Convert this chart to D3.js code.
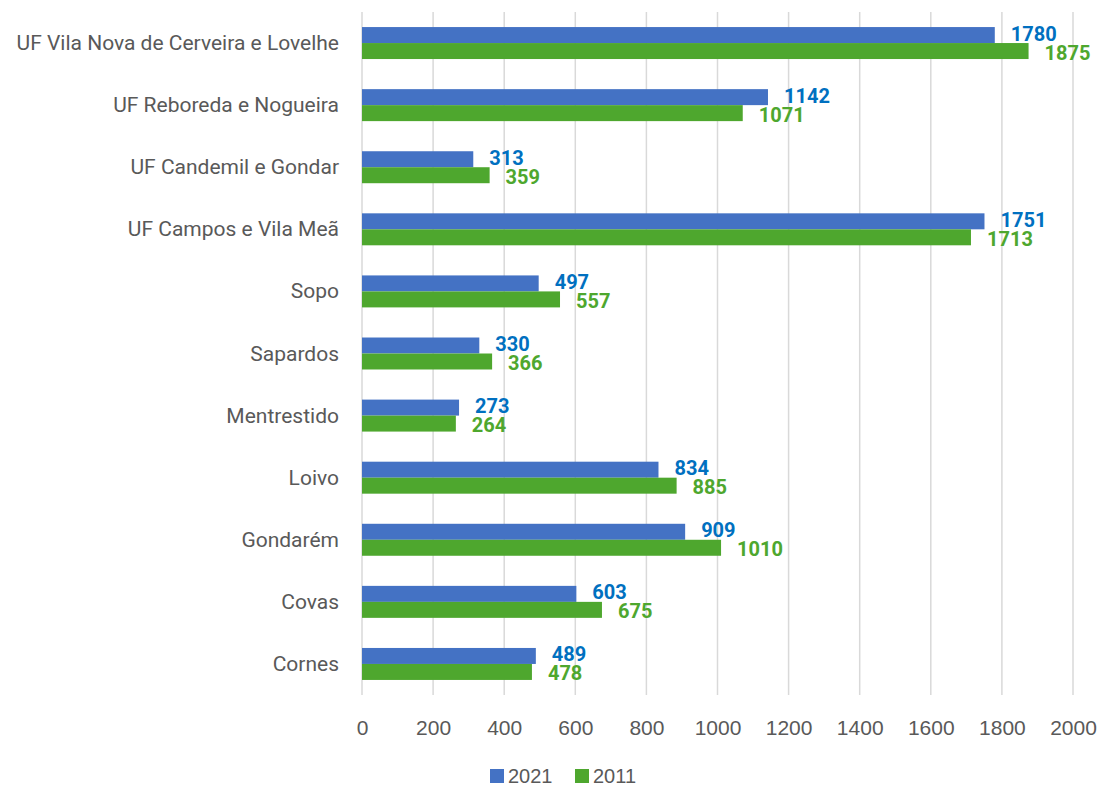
<!DOCTYPE html>
<html>
<head>
<meta charset="utf-8">
<script src="https://cdn.jsdelivr.net/npm/d3@7"></script>
<style>
  html, body { margin: 0; padding: 0; background: #ffffff; }
  svg { display: block; }
</style>
</head>
<body>
<svg id="chart" width="1099" height="787"></svg>
<script>
// Parishes, listed top to bottom
const categories = [
  "UF Vila Nova de Cerveira e Lovelhe",
  "UF Reboreda e Nogueira",
  "UF Candemil e Gondar",
  "UF Campos e Vila Meã",
  "Sopo",
  "Sapardos",
  "Mentrestido",
  "Loivo",
  "Gondarém",
  "Covas",
  "Cornes"
];
const values2021 = [1780, 1142, 313, 1751, 497, 330, 273, 834, 909, 603, 489];
const values2011 = [1875, 1071, 359, 1713, 557, 366, 264, 885, 1010, 675, 478];
const seriesNames = ["2021", "2011"];
const xTicks = [0, 200, 400, 600, 800, 1000, 1200, 1400, 1600, 1800, 2000];

const barColors = { "2021": "#4472C4", "2011": "#4EA72E" };
const labelColors = { "2021": "#0070C0", "2011": "#4EA72E" };

const svg = d3.select("#chart");
const plot = { left: 362, right: 1073, top: 12, bottom: 695 };

const x = d3.scaleLinear().domain([0, 2000]).range([plot.left, plot.right]);
const y = d3.scaleBand().domain(categories).range([plot.top, plot.bottom]).paddingInner(0.485).paddingOuter(0.2425);
const ySub = d3.scaleBand().domain(seriesNames).range([0, y.bandwidth()]);

// vertical gridlines
svg.append("g")
  .selectAll("line")
  .data(xTicks)
  .join("line")
  .attr("x1", d => x(d)).attr("x2", d => x(d))
  .attr("y1", plot.top).attr("y2", plot.bottom)
  .attr("stroke", "#d9d9d9")
  .attr("stroke-width", 1.5);

// x axis tick labels
const xAxis = d3.axisBottom(x).tickValues(xTicks).tickFormat(d3.format("d")).tickSize(0).tickPadding(0);
const gx = svg.append("g").attr("transform", `translate(0,${plot.bottom})`).call(xAxis);
gx.select(".domain").remove();
gx.selectAll("text")
  .attr("dy", null)
  .attr("y", 32)
  .attr("dominant-baseline", "central")
  .attr("fill", "#595959")
  .attr("font-family", "'Liberation Sans', Arial, sans-serif")
  .attr("font-size", 21);

// category labels
const yAxis = d3.axisLeft(y).tickSize(0).tickPadding(0);
const gy = svg.append("g").attr("transform", `translate(${plot.left - 23},0)`).call(yAxis);
gy.select(".domain").remove();
gy.selectAll("text")
  .attr("dy", null)
  .attr("dominant-baseline", "central")
  .attr("fill", "#595959")
  .attr("font-family", "Roboto, 'Open Sans', sans-serif")
  .attr("font-size", 21);

const rows = categories.map((c, i) => ({ cat: c, "2021": values2021[i], "2011": values2011[i] }));

const groups = svg.append("g")
  .selectAll("g")
  .data(rows)
  .join("g")
  .attr("transform", d => `translate(0,${y(d.cat)})`);

seriesNames.forEach(s => {
  groups.append("rect")
    .attr("x", x(0))
    .attr("y", ySub(s))
    .attr("width", d => x(d[s]) - x(0))
    .attr("height", ySub.bandwidth())
    .attr("fill", barColors[s]);

  // value labels just past the bar end
  groups.append("text")
    .attr("x", d => x(d[s]) + 16)
    .attr("y", ySub(s) + ySub.bandwidth() / 2 + (s === "2021" ? -1.5 : 1.5))
    .attr("dominant-baseline", "central")
    .attr("fill", labelColors[s])
    .attr("font-family", "Roboto, 'Open Sans', sans-serif")
    .attr("font-weight", "bold")
    .attr("font-size", 20)
    .text(d => d[s]);
});

// legend
const legend = svg.append("g").attr("transform", "translate(0,776)");
const legendItems = [{ name: "2021", x: 490 }, { name: "2011", x: 575 }];
legendItems.forEach(it => {
  legend.append("rect")
    .attr("x", it.x).attr("y", -7)
    .attr("width", 14).attr("height", 14)
    .attr("fill", barColors[it.name]);
  legend.append("text")
    .attr("x", it.x + 18).attr("y", 0)
    .attr("dominant-baseline", "central")
    .attr("fill", "#595959")
    .attr("font-family", "'Liberation Sans', Arial, sans-serif")
    .attr("font-size", 20)
    .text(it.name);
});
</script>
</body>
</html>
